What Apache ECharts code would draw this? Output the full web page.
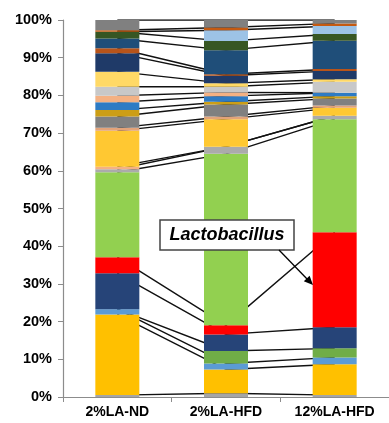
<!DOCTYPE html>
<html>
<head>
<meta charset="utf-8">
<script src="https://cdn.jsdelivr.net/npm/echarts@6/dist/echarts.min.js"></script>
<style>
html,body{margin:0;padding:0;background:#fff;}
#chart{width:389px;height:423px;}
</style>
</head>
<body>
<div id="chart"></div>
<script>
// Categories (groups)
var categories = ['2%LA-ND', '2%LA-HFD', '12%LA-HFD'];

// Taxa, stacked bottom -> top
var taxa = ['Taxon A', 'Taxon B', 'Taxon C', 'Taxon D', 'Taxon E', 'Lactobacillus',
  'Taxon G', 'Taxon H', 'Taxon I', 'Taxon J', 'Taxon K', 'Taxon L', 'Taxon M',
  'Taxon N', 'Taxon O', 'Taxon P', 'Taxon Q', 'Taxon R', 'Taxon S', 'Taxon T',
  'Taxon U', 'Taxon V', 'Taxon W', 'Taxon X'];

// Relative abundance (%) per group, same order as taxa
var valuesND    = [0.5, 21.4, 1.4, 0.0, 9.5, 4.3, 22.5, 0.8, 0.7, 9.5, 0.8, 3.0, 1.7, 2.1, 1.7, 2.4, 4.0, 4.9, 1.3, 2.6, 1.8, 0.0, 0.4, 2.7];
var valuesHFD2  = [1.0, 6.3, 1.6, 3.3, 4.4, 2.4, 45.5, 1.9, 0.0, 7.3, 0.7, 3.2, 0.7, 1.5, 1.0, 1.5, 0.9, 2.0, 0.4, 6.4, 2.4, 2.9, 0.7, 2.0];
var valuesHFD12 = [0.5, 8.2, 1.8, 2.4, 5.6, 25.2, 30.0, 0.9, 0.0, 2.1, 0.6, 1.9, 0.6, 0.9, 0.0, 2.9, 0.7, 2.2, 0.5, 7.5, 1.8, 2.1, 0.7, 0.9];

// Y tick labels
var yTicks = [0, 10, 20, 30, 40, 50, 60, 70, 80, 90, 100];

// Palette (style, separate from data)
var palette = ['#A5A5A5', '#FFC000', '#5B9BD5', '#70AD47', '#264478', '#FF0000',
  '#92D050', '#ABABAB', '#F4B183', '#FFC832', '#E2A37A', '#808080', '#CC9E16',
  '#2E7BC4', '#F4B183', '#C8C8C8', '#FFD966', '#1F3A68', '#B8541A', '#1F4E79',
  '#375623', '#9DC3E6', '#C55A11', '#808080'];

var groups = [valuesND, valuesHFD2, valuesHFD12];
var series = [];
taxa.forEach(function (name, i) {
  series.push({
    name: name,
    type: 'bar',
    stack: 'total',
    barWidth: 44,
    z: 3,
    itemStyle: { color: palette[i] },
    data: groups.map(function (g) { return g[i]; }),
    animation: false,
    silent: true
  });
});
// connecting lines between segment tops (drawn under the bars)
var cum = groups.map(function () { return 0; });
taxa.forEach(function (name, i) {
  cum = cum.map(function (c, j) { return c + groups[j][i]; });
  series.push({
    type: 'line',
    z: 1,
    symbol: 'none',
    silent: true,
    animation: false,
    lineStyle: { color: '#111', width: 1.4 },
    data: cum.slice()
  });
});

var chart = echarts.init(document.getElementById('chart'), null, { renderer: 'canvas' });
chart.setOption({
  backgroundColor: '#fff',
  animation: false,
  grid: { left: 63, width: 333, top: 20, bottom: 26, containLabel: false },
  xAxis: {
    type: 'category',
    data: categories,
    axisLine: { lineStyle: { color: '#8c8c8c', width: 1.2 } },
    axisTick: { show: true, length: 5, lineStyle: { color: '#8c8c8c' } },
    axisLabel: { color: '#000', fontWeight: 'bold', fontSize: 14, fontFamily: 'Liberation Sans, Arial', margin: 8 }
  },
  yAxis: {
    type: 'value',
    min: yTicks[0],
    max: yTicks[yTicks.length - 1],
    interval: 10,
    axisLine: { show: true, lineStyle: { color: '#8c8c8c', width: 1.2 } },
    axisTick: { show: true, length: 5, lineStyle: { color: '#8c8c8c' } },
    splitLine: { show: false },
    axisLabel: { formatter: '{value}%', color: '#000', fontWeight: 'bold', fontSize: 14.5, fontFamily: 'Liberation Sans, Arial', margin: 11 }
  },
  series: series,
  graphic: [
    {
      type: 'rect', z: 100,
      shape: { x: 160, y: 220, width: 134, height: 30 },
      style: { fill: '#fff', stroke: '#444', lineWidth: 1.5 }
    },
    {
      type: 'text', z: 101, x: 227, y: 235,
      style: { text: 'Lactobacillus', fill: '#000', font: 'italic bold 18px "Liberation Sans", Arial', textAlign: 'center', textVerticalAlign: 'middle' }
    },
    {
      type: 'line', z: 100,
      shape: { x1: 279, y1: 250, x2: 309, y2: 281 },
      style: { stroke: '#000', lineWidth: 1.3 }
    },
    {
      type: 'polygon', z: 100,
      shape: { points: [[313, 285], [303.8, 281.3], [309.6, 275.8]] },
      style: { fill: '#000' }
    }
  ]
});
</script>
</body>
</html>
